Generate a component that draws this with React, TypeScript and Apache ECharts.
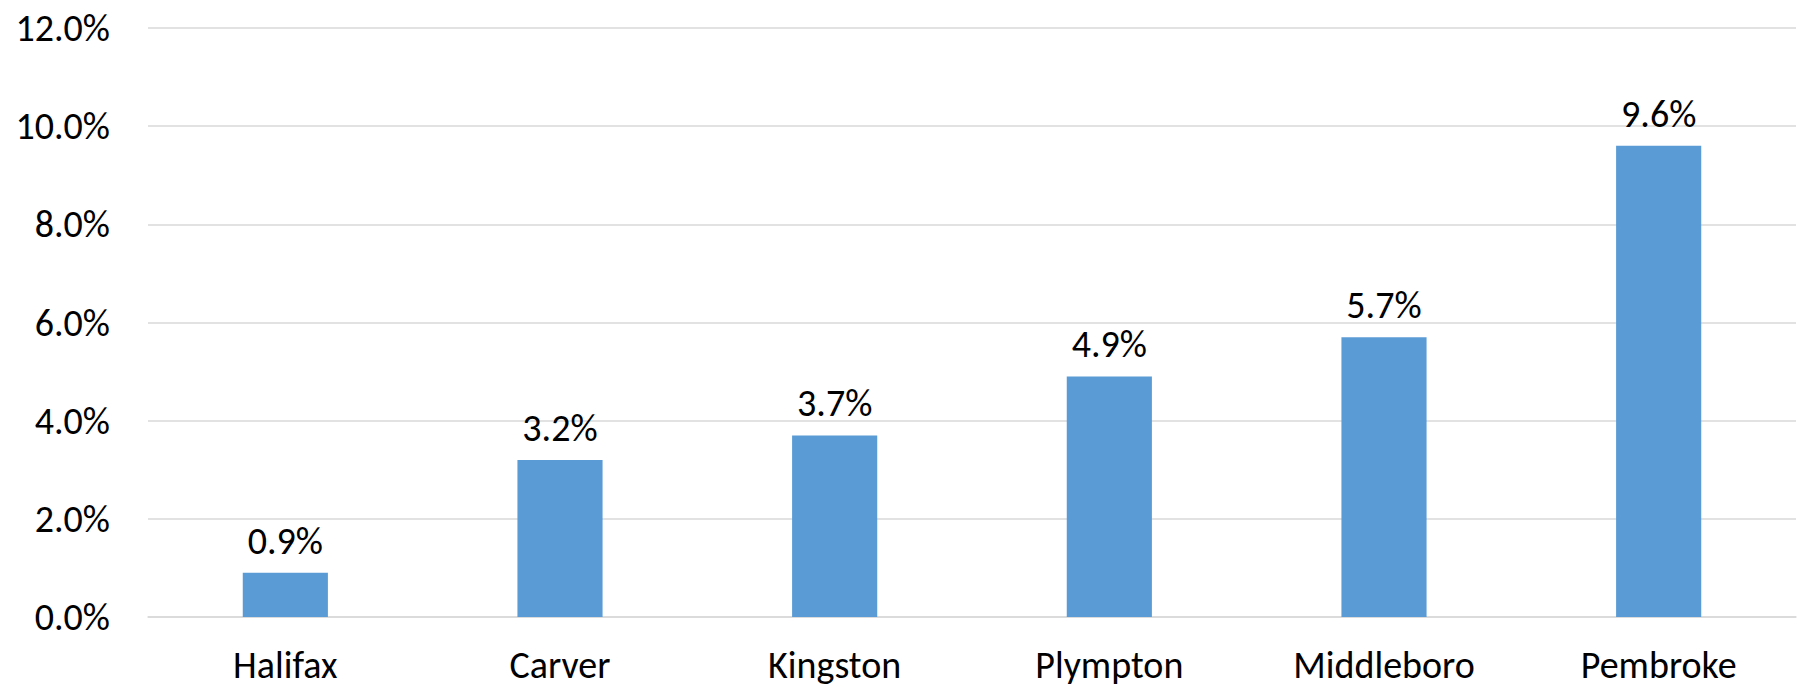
import React, { useEffect, useRef } from "react";
import * as echarts from "echarts";

// Share by town, in percent
const towns = ["Halifax", "Carver", "Kingston", "Plympton", "Middleboro", "Pembroke"];
const shares = [0.9, 3.2, 3.7, 4.9, 5.7, 9.6];

const FONT = "Carlito, Calibri, Lato, 'Open Sans', sans-serif";
const FONT_SIZE = 38;

export default function App() {
  const ref = useRef<HTMLDivElement>(null);

  useEffect(() => {
    document.body.style.margin = "0";
    const chart = echarts.init(ref.current!, null, { renderer: "svg" });
    chart.setOption({
      animation: false,
      backgroundColor: "#ffffff",
      textStyle: { fontFamily: FONT },
      grid: { left: 148, right: 5, top: 28, bottom: 72, containLabel: false },
      xAxis: {
        type: "category",
        data: towns,
        axisLine: { lineStyle: { color: "#d9d9d9", width: 1.5 } },
        axisTick: { show: false },
        axisLabel: {
          color: "#000000",
          fontSize: FONT_SIZE,
          fontFamily: FONT,
          margin: 29,
        },
      },
      yAxis: {
        type: "value",
        min: 0,
        max: 12,
        interval: 2,
        axisLine: { show: false },
        axisTick: { show: false },
        splitLine: { lineStyle: { color: "#d9d9d9", width: 1.5 } },
        axisLabel: {
          color: "#000000",
          fontSize: FONT_SIZE,
          fontFamily: FONT,
          margin: 38,
          formatter: (v: number) => `${v.toFixed(1)}%`,
        },
      },
      series: [
        {
          type: "bar",
          data: shares,
          barWidth: "31%",
          itemStyle: { color: "#5b9bd5" },
          label: {
            show: true,
            position: "top",
            distance: 13,
            color: "#000000",
            fontSize: FONT_SIZE,
            fontFamily: FONT,
            formatter: (p: any) => `${p.value.toFixed(1)}%`,
          },
        },
      ],
    });
    return () => chart.dispose();
  }, []);

  return (
    <div
      ref={ref}
      style={{ position: "absolute", left: 0, top: 0, width: 1801, height: 689 }}
    />
  );
}
